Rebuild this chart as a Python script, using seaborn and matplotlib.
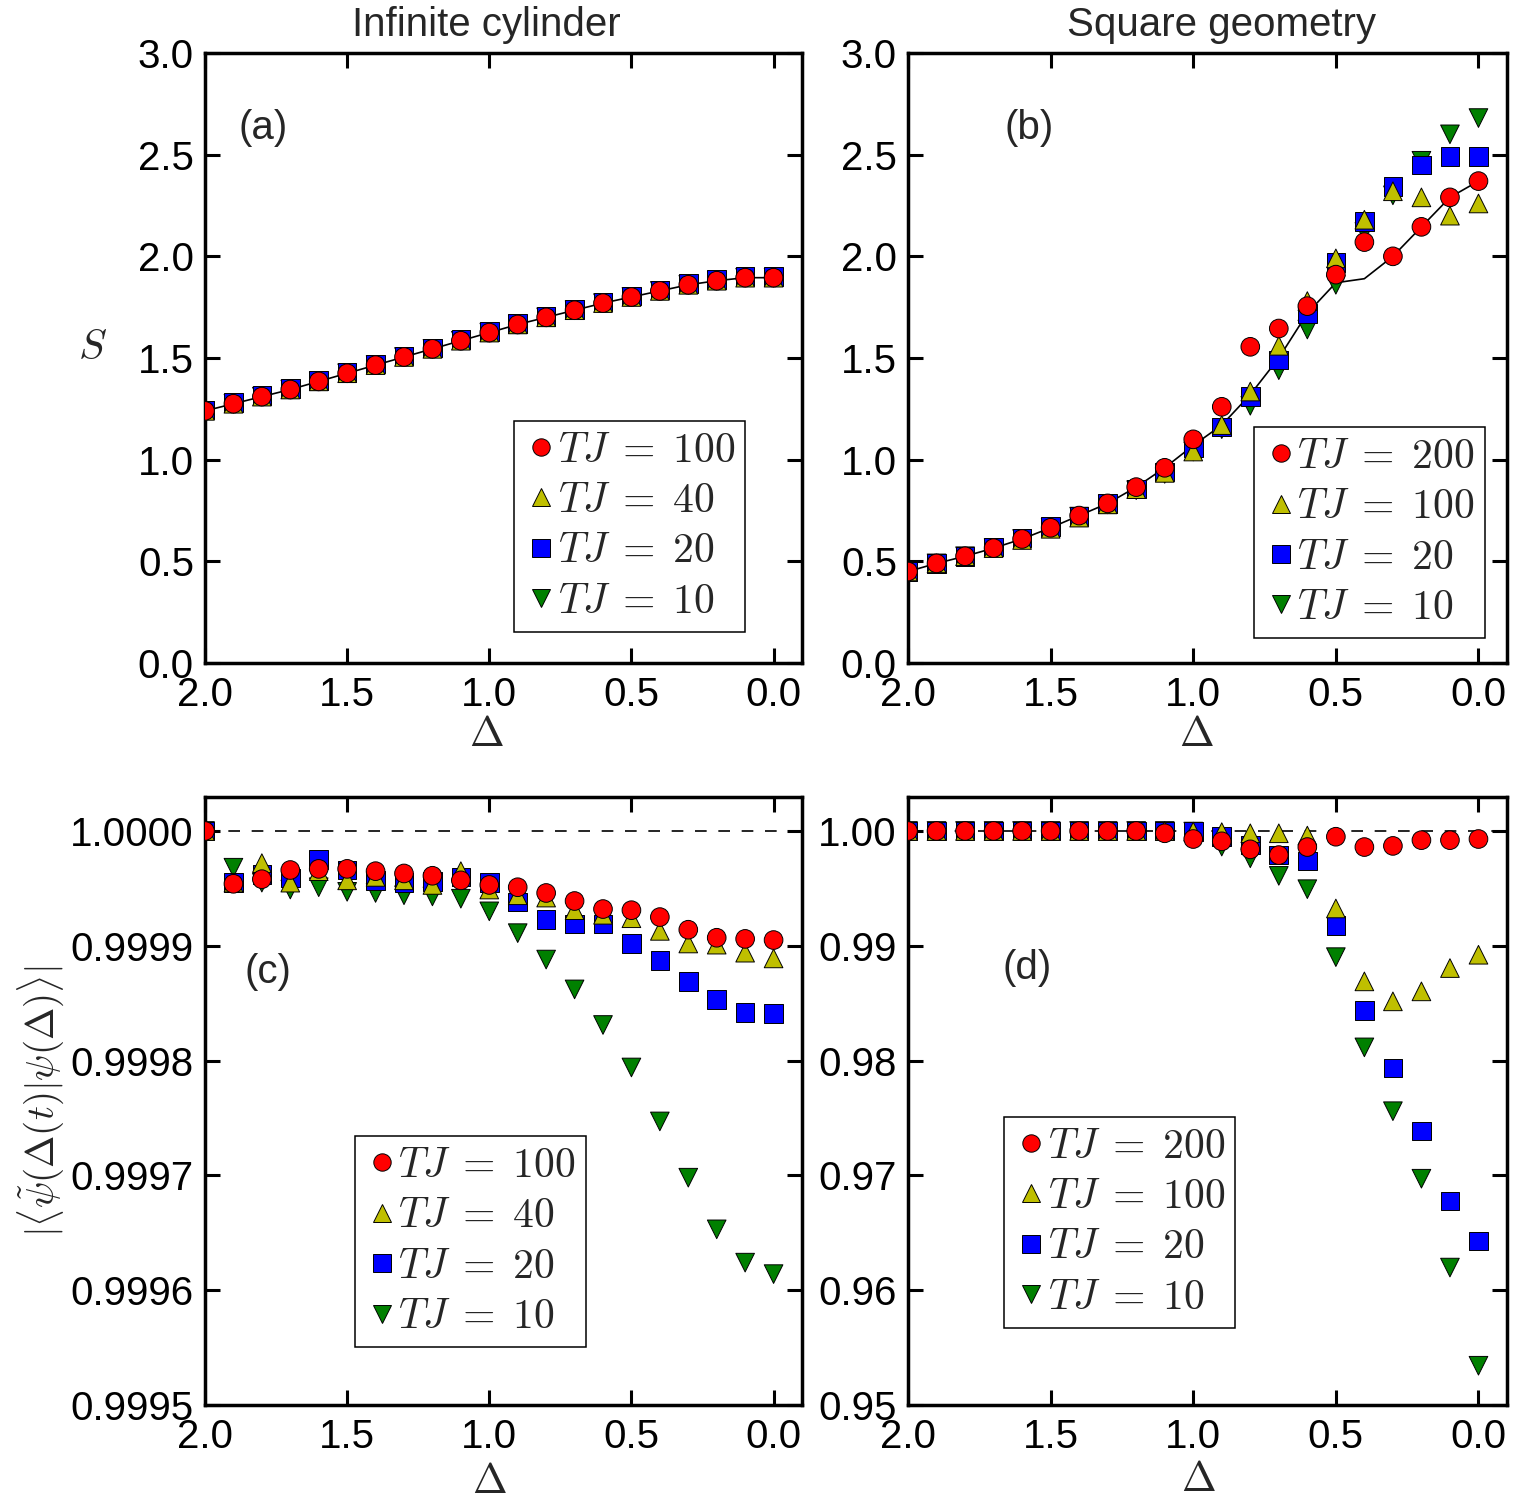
import matplotlib
matplotlib.use('Agg')
import matplotlib.pyplot as plt
from matplotlib.lines import Line2D
from matplotlib.ticker import FormatStrFormatter
import pandas as pd
import seaborn as sns

sns.set_style('ticks')
plt.rcParams.update({'font.family'      : ['Liberation Sans', 'DejaVu Sans'],
                     'mathtext.fontset' : 'cm',
                     'font.size'        : 29,
                     'axes.linewidth'   : 2.5,
                     'axes.edgecolor'   : 'black',
                     'xtick.direction'  : 'in',
                     'ytick.direction'  : 'in',
                     'xtick.labelsize'  : 29,
                     'ytick.labelsize'  : 29})

delta = [2.0, 1.9, 1.8, 1.7, 1.6, 1.5, 1.4, 1.3, 1.2, 1.1, 1.0,
         0.9, 0.8, 0.7, 0.6, 0.5, 0.4, 0.3, 0.2, 0.1, 0.0]

# (a) infinite cylinder, entanglement entropy
cyl_labels = [r'$TJ\;=\;100$', r'$TJ\;=\;40$', r'$TJ\;=\;20$', r'$TJ\;=\;10$']
S_cyl_100 = [1.24, 1.275, 1.31, 1.345, 1.385, 1.425, 1.465, 1.505, 1.545, 1.585, 1.625,
             1.665, 1.70, 1.735, 1.77, 1.80, 1.83, 1.86, 1.88, 1.895, 1.895]
S_cyl_40  = [1.24, 1.275, 1.31, 1.345, 1.385, 1.425, 1.465, 1.505, 1.545, 1.585, 1.625,
             1.665, 1.70, 1.735, 1.77, 1.80, 1.83, 1.86, 1.88, 1.895, 1.895]
S_cyl_20  = [1.245, 1.28, 1.315, 1.35, 1.39, 1.43, 1.47, 1.51, 1.55, 1.59, 1.63,
             1.67, 1.705, 1.74, 1.775, 1.805, 1.835, 1.865, 1.885, 1.90, 1.90]
S_cyl_10  = [1.24, 1.275, 1.31, 1.345, 1.385, 1.425, 1.465, 1.505, 1.545, 1.585, 1.625,
             1.665, 1.70, 1.735, 1.77, 1.80, 1.83, 1.86, 1.88, 1.895, 1.895]
S_cyl_ref = [1.24, 1.275, 1.31, 1.345, 1.385, 1.425, 1.465, 1.505, 1.545, 1.585, 1.625,
             1.665, 1.70, 1.735, 1.77, 1.80, 1.83, 1.86, 1.88, 1.895, 1.895]

# (b) square geometry, entanglement entropy
sq_labels = [r'$TJ\;=\;200$', r'$TJ\;=\;100$', r'$TJ\;=\;20$', r'$TJ\;=\;10$']
S_sq_200 = [0.45, 0.49, 0.525, 0.565, 0.61, 0.665, 0.725, 0.785, 0.865, 0.96, 1.10,
            1.26, 1.555, 1.645, 1.755, 1.91, 2.07, 2.00, 2.145, 2.29, 2.37]
S_sq_100 = [0.45, 0.49, 0.525, 0.565, 0.605, 0.66, 0.715, 0.78, 0.855, 0.935, 1.04,
            1.17, 1.335, 1.56, 1.78, 1.99, 2.18, 2.32, 2.29, 2.20, 2.26]
S_sq_20  = [0.45, 0.49, 0.525, 0.57, 0.615, 0.67, 0.72, 0.785, 0.855, 0.94, 1.06,
            1.16, 1.31, 1.49, 1.72, 1.97, 2.17, 2.345, 2.45, 2.49, 2.49]
S_sq_10  = [0.45, 0.49, 0.525, 0.565, 0.61, 0.665, 0.72, 0.78, 0.85, 0.93, 1.04,
            1.15, 1.265, 1.44, 1.64, 1.86, 2.12, 2.30, 2.47, 2.60, 2.68]
S_sq_ref = [0.45, 0.49, 0.525, 0.565, 0.61, 0.665, 0.725, 0.785, 0.865, 0.96, 1.07,
            1.17, 1.32, 1.50, 1.72, 1.87, 1.89, 2.00, 2.145, 2.29, 2.37]

# (c) infinite cylinder, fidelity
F_cyl_100 = [1.0, 0.999954, 0.999958, 0.999966, 0.999967, 0.999967, 0.999965, 0.999963, 0.999961, 0.999957, 0.999953,
             0.999951, 0.999946, 0.999939, 0.999932, 0.999931, 0.999925, 0.999914, 0.999907, 0.999906, 0.999905]
F_cyl_40  = [1.0, 0.999955, 0.999972, 0.999955, 0.999965, 0.999957, 0.999960, 0.999957, 0.999953, 0.999965, 0.999949,
             0.999944, 0.999942, 0.999931, 0.999927, 0.999924, 0.999913, 0.999902, 0.999901, 0.999894, 0.999889]
F_cyl_20  = [1.0, 0.999955, 0.999962, 0.999959, 0.999975, 0.999966, 0.999957, 0.999955, 0.999956, 0.999960, 0.999955,
             0.999938, 0.999923, 0.999919, 0.999919, 0.999902, 0.999887, 0.999869, 0.999853, 0.999842, 0.999841]
F_cyl_10  = [1.0, 0.999968, 0.999955, 0.999949, 0.999951, 0.999947, 0.999946, 0.999944, 0.999943, 0.999941, 0.999930,
             0.999911, 0.999888, 0.999862, 0.999831, 0.999794, 0.999747, 0.999698, 0.999653, 0.999624, 0.999614]

# (d) square geometry, fidelity
F_sq_200 = [1.0, 1.0, 1.0, 1.0, 1.0, 1.0, 1.0, 1.0, 1.0, 0.9998, 0.9993,
            0.9991, 0.9984, 0.9979, 0.9986, 0.9995, 0.9986, 0.9987, 0.9992, 0.9992, 0.9993]
F_sq_100 = [1.0, 1.0, 1.0, 1.0, 1.0, 1.0, 1.0, 1.0, 1.0, 1.0, 0.99995,
            0.9999, 0.9998, 0.9998, 0.9996, 0.99325, 0.9869, 0.98516, 0.98603, 0.98806, 0.98922]
F_sq_20  = [1.0, 1.0, 1.0, 1.0, 1.0, 1.0, 1.0, 1.0, 1.0, 1.0, 0.99995,
            0.9995, 0.99878, 0.9979, 0.99739, 0.99174, 0.98435, 0.97936, 0.97386, 0.96777, 0.96429]
F_sq_10  = [1.0, 1.0, 1.0, 1.0, 1.0, 1.0, 1.0, 1.0, 1.0, 1.0, 0.99995,
            0.99864, 0.99762, 0.99609, 0.99493, 0.98901, 0.98115, 0.97559, 0.96971, 0.96197, 0.95342]

colors  = ['#FF0000', '#BFBF00', '#0000FF', '#008000']
markers = ['o', '^', 's', 'v']

W, H = 1523, 1502


def long_frame(series, labels):
    # reversed so the first legend entry (red) is drawn on top
    parts = [pd.DataFrame({'delta': delta, 'value': v, 'TJ': lab})
             for v, lab in zip(series[::-1], labels[::-1])]
    return pd.concat(parts, ignore_index=True)


def make_axes(fig, left, right, top, bottom):
    return fig.add_axes([left / W, (H - bottom) / H, (right - left) / W, (bottom - top) / H])


def draw(ax, series, labels, ref=None):
    df = long_frame(series, labels)
    if ref is not None:
        sns.lineplot(x=delta, y=ref, color='k', lw=1.2, ax=ax, zorder=2)
    sns.scatterplot(data=df, x='delta', y='value', hue='TJ', style='TJ',
                    hue_order=labels, style_order=labels,
                    palette=dict(zip(labels, colors)), markers=dict(zip(labels, markers)),
                    s=180, edgecolor='k', linewidth=0.7, legend=False, ax=ax, zorder=3)
    ax.set_xlim(2.0, -0.1)
    ax.set_xticks([2.0, 1.5, 1.0, 0.5, 0.0])
    ax.xaxis.set_major_formatter(FormatStrFormatter('%.1f'))
    ax.tick_params(which='both', direction='in', length=11, width=2.2,
                   top=True, right=True, colors='k')
    ax.tick_params(axis='x', pad=9)
    ax.tick_params(axis='y', pad=8)
    for sp in ax.spines.values():
        sp.set_linewidth(2.5)
        sp.set_color('k')
    ax.set_xlabel(r'$\Delta$', fontsize=30)
    ax.set_ylabel('')


def add_legend(ax, labels, loc, anchor):
    handles = [Line2D([], [], ls='none', marker=m, markersize=12.5, markerfacecolor=c,
                      markeredgecolor='k', markeredgewidth=0.7)
               for m, c in zip(markers, colors)]
    leg = ax.legend(handles, labels, loc=loc, bbox_to_anchor=anchor, borderaxespad=0,
                    fontsize=30, handlelength=0.8, handletextpad=0.0, labelspacing=0.25,
                    borderpad=0.24, fancybox=False, framealpha=1, edgecolor='k')
    leg.get_frame().set_linewidth(1.1)


fig = plt.figure(figsize=(W / 100, H / 100), dpi=100)

ax_a = make_axes(fig, 205, 802, 53, 663)
ax_b = make_axes(fig, 908, 1507, 53, 663)
ax_c = make_axes(fig, 205, 802, 797, 1405)
ax_d = make_axes(fig, 908, 1507, 797, 1405)

draw(ax_a, [S_cyl_100, S_cyl_40, S_cyl_20, S_cyl_10], cyl_labels, ref=S_cyl_ref)
draw(ax_b, [S_sq_200, S_sq_100, S_sq_20, S_sq_10], sq_labels, ref=S_sq_ref)
draw(ax_c, [F_cyl_100, F_cyl_40, F_cyl_20, F_cyl_10], cyl_labels)
draw(ax_d, [F_sq_200, F_sq_100, F_sq_20, F_sq_10], sq_labels)

for ax in (ax_a, ax_b):
    ax.set_ylim(0, 3.0)
    ax.set_yticks([0.0, 0.5, 1.0, 1.5, 2.0, 2.5, 3.0])
    ax.yaxis.set_major_formatter(FormatStrFormatter('%.1f'))

ax_c.set_ylim(0.9995, 1.0000296)
ax_c.set_yticks([0.9995, 0.9996, 0.9997, 0.9998, 0.9999, 1.0])
ax_c.yaxis.set_major_formatter(FormatStrFormatter('%.4f'))
ax_d.set_ylim(0.95, 1.00296)
ax_d.set_yticks([0.95, 0.96, 0.97, 0.98, 0.99, 1.0])
ax_d.yaxis.set_major_formatter(FormatStrFormatter('%.2f'))

for ax in (ax_c, ax_d):
    ax.axhline(1.0, color='k', lw=1.2, ls=(0, (7, 7)), zorder=1)

ax_a.set_title('Infinite cylinder', fontsize=29, pad=12, x=0.472)
ax_b.set_title('Square geometry', fontsize=29, pad=12, x=0.523)

ax_a.set_ylabel(r'$S$', fontsize=30, rotation=0, ha='center', va='center')
ax_a.yaxis.set_label_coords(-0.189, 0.516)
ax_c.set_ylabel(r'$|\langle\tilde{\psi}(\Delta(t)|\psi(\Delta)\rangle|$', fontsize=28, va='center')
ax_c.yaxis.set_label_coords(-0.276, 0.5)

ax_a.xaxis.set_label_coords(0.472, -0.085)
ax_b.xaxis.set_label_coords(0.481, -0.085)
ax_c.xaxis.set_label_coords(0.476, -0.094)
ax_d.xaxis.set_label_coords(0.485, -0.090)

ax_a.text(0.097, 0.877, '(a)', transform=ax_a.transAxes, ha='center', va='center', fontsize=29)
ax_b.text(0.203, 0.877, '(b)', transform=ax_b.transAxes, ha='center', va='center', fontsize=29)
ax_c.text(0.106, 0.712, '(c)', transform=ax_c.transAxes, ha='center', va='center', fontsize=29)
ax_d.text(0.199, 0.719, '(d)', transform=ax_d.transAxes, ha='center', va='center', fontsize=29)

add_legend(ax_a, cyl_labels, 'lower right', (0.905, 0.051))
add_legend(ax_b, sq_labels, 'lower right', (0.963, 0.041))
add_legend(ax_c, cyl_labels, 'lower left', (0.251, 0.095))
add_legend(ax_d, sq_labels, 'lower left', (0.161, 0.127))

fig.savefig('out.png', dpi=100)
